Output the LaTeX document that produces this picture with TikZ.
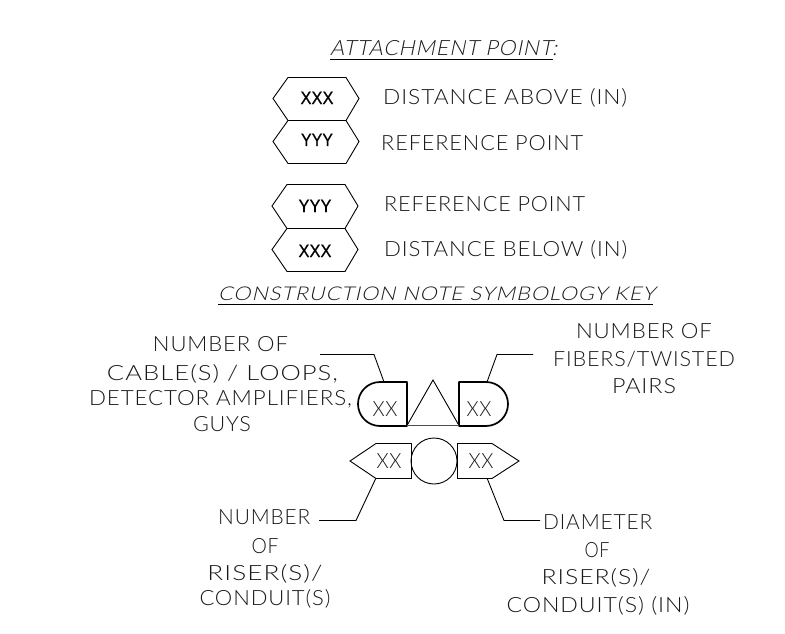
\documentclass[tikz,border=0pt]{standalone}
\usepackage{graphicx}
\usepackage{fontspec}
\setmainfont{Liberation Sans}
\newfontfamily\cadfont[UprightFont=* Light,LetterSpace=4]{Lato}
\newfontfamily\cadslant[UprightFont=* Light,LetterSpace=4,FakeSlant=0.2]{Lato}
\newfontfamily\cadbold[FakeBold=0.4]{Liberation Sans}
\newcommand\fw[2]{\resizebox{#1pt}{\height}{#2}}
\tikzset{
  x=1pt,y=-1pt,
  ln/.style={line width=0.9pt,black,line join=miter},
  hv/.style={line width=1.7pt,black,line join=round},
  lbl/.style={inner sep=0pt,text=black!90,font=\cadfont\fontsize{21}{24}\selectfont},
  lw/.style={lbl,anchor=base west},
  lc/.style={lbl,anchor=base},
  hd/.style={inner sep=0pt,anchor=base west,text=black!90,font=\cadslant\fontsize{21}{24}\selectfont},
  val/.style={inner sep=0pt,anchor=base,text=black,font=\cadbold\fontsize{18}{20}\selectfont},
}
\begin{document}
\begin{tikzpicture}
\useasboundingbox (0,0) rectangle (785,634);
% headings
\node[hd] (h1) at (330,56) {\fw{227}{ATTACHMENT POINT:}};
\coordinate (h1a) at (330,59.5); \coordinate (h1b) at (553,59.5);
\draw[ln] (h1a) -- (h1b);
\node[hd,font=\cadslant\fontsize{19}{24}\selectfont] (h2) at (218,300) {\fw{437}{CONSTRUCTION NOTE SYMBOLOGY KEY}};
\coordinate (h2a) at (218,304); \coordinate (h2b) at (653,304);
\draw[ln] (h2a) -- (h2b);
% hexagons
\draw[ln] (288,77.5) -- (346,77.5) -- (359,98.5) -- (346,120.5) -- (359,141.5) -- (346,163.5) -- (288,163.5) -- (273,141.5) -- (288,120.5) -- (273,98.5) -- cycle;
\draw[ln] (288,120.5) -- (346,120.5);
\draw[ln] (287,184.5) -- (345,184.5) -- (358,206) -- (345,228.5) -- (358,249.5) -- (345,271.5) -- (287,271.5) -- (272,249.5) -- (287,228.5) -- (272,206) -- cycle;
\draw[ln] (287,228.5) -- (345,228.5);
\node[val] (v1) at (317,104) {\fw{33}{XXX}};
\node[val] (v2) at (317,146) {\fw{32}{YYY}};
\node[val] (v3) at (315,212) {\fw{33}{YYY}};
\node[val] (v4) at (315,257) {\fw{33}{XXX}};
\node[lw] (t1) at (383,104.5) {\fw{244}{DISTANCE ABOVE (IN)}};
\node[lw] (t2) at (381,150) {\fw{202}{REFERENCE POINT}};
\node[lw] (t3) at (384,211) {\fw{201}{REFERENCE POINT}};
\node[lw] (t4) at (384,256) {\fw{243}{DISTANCE BELOW (IN)}};
% upper symbol
\draw[hv] (407,382) -- (380,382) .. controls (367.85,382) and (358,391.85) .. (358,404) .. controls (358,416.15) and (367.85,426) .. (380,426) -- (407,426) -- cycle;
\draw[hv] (459,382) -- (486,382) .. controls (498.15,382) and (508,391.85) .. (508,404) .. controls (508,416.15) and (498.15,426) .. (486,426) -- (459,426) -- cycle;
\draw[ln] (407,425.5) -- (433,380) -- (459,425.5);
\draw[line width=1.3pt,black!70] (407,425.5) -- (459,425.5);
\node[lc] (x1) at (385,416) {\fw{25}{XX}};
\node[lc] (x2) at (479,416) {\fw{25}{XX}};
% lower symbol
\draw[ln] (350,461) -- (376,443.5) -- (411.5,443.5) -- (411.5,478.5) -- (376,478.5) -- cycle;
\draw[ln] (519,461) -- (492,443.5) -- (457.5,443.5) -- (457.5,478.5) -- (492,478.5) -- cycle;
\draw[ln] (434,461) circle[radius=23pt];
\node[lc] (x3) at (389,468) {\fw{25}{XX}};
\node[lc] (x4) at (481,468) {\fw{25}{XX}};
% left and right callouts
\node[lc] (a1) at (220.5,351) {\fw{135}{NUMBER OF}};
\node[lc] (a2) at (222.5,380) {\fw{231}{CABLE(S) / LOOPS,}};
\node[lc] (a3) at (220.5,405) {\fw{263}{DETECTOR AMPLIFIERS,}};
\node[lc] (a4) at (222,431) {\fw{58}{GUYS}};
\node[lc] (b1) at (644,338) {\fw{136}{NUMBER OF}};
\node[lc] (b2) at (644,366) {\fw{182}{FIBERS/TWISTED}};
\node[lc] (b3) at (644,393) {\fw{64}{PAIRS}};
\node[lw] (c1) at (218,524) {\fw{92}{NUMBER}};
\node[lc] (c2) at (265,553) {\fw{27}{OF}};
\node[lc] (c3) at (265,580) {\fw{115}{RISER(S)/}};
\node[lc] (c4) at (265,605) {\fw{131}{CONDUIT(S)}};
\node[lw] (d1) at (543,529) {\fw{109}{DIAMETER}};
\node[lc] (d2) at (597,557) {\fw{25}{OF}};
\node[lc] (d3) at (596,584) {\fw{109}{RISER(S)/}};
\node[lc] (d4) at (598,612) {\fw{183}{CONDUIT(S) (IN)}};
% leaders
\coordinate (la) at (320,354.5); \coordinate (lb) at (374,354.5); \coordinate (lc) at (384,382);
\coordinate (ra) at (533,354.5); \coordinate (rb) at (497,354.5); \coordinate (rc) at (487,382);
\coordinate (ma) at (319,520.5); \coordinate (mb) at (356,520.5); \coordinate (mc) at (376,478);
\coordinate (na) at (540,520.5); \coordinate (nb) at (504,520.5); \coordinate (nc) at (487,478);
\draw[ln] (la) -- (lb) -- (lc);
\draw[ln] (ra) -- (rb) -- (rc);
\draw[ln] (ma) -- (mb) -- (mc);
\draw[ln] (na) -- (nb) -- (nc);
\end{tikzpicture}
\end{document}
